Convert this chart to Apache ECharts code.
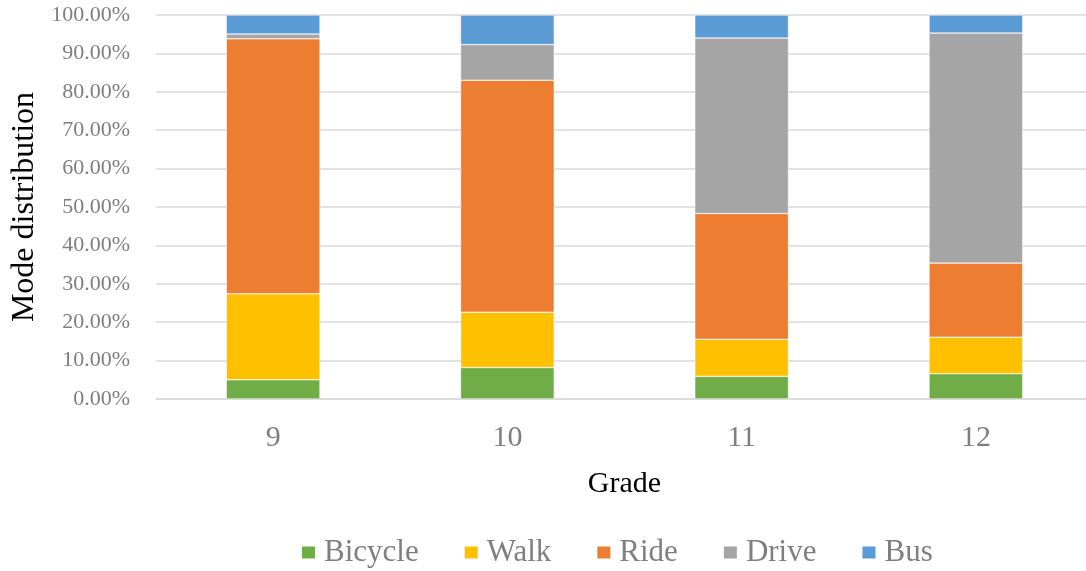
<!DOCTYPE html>
<html>
<head>
<meta charset="utf-8">
<script src="https://cdn.jsdelivr.net/npm/echarts@6/dist/echarts.min.js"></script>
<style>
html,body{margin:0;padding:0;background:#fff;}
#chart{width:1086px;height:571px;}
</style>
</head>
<body>
<div id="chart"></div>
<script>
const grades = ['9', '10', '11', '12'];
const bicycle = [5.0, 8.2, 5.9, 6.6];
const walk = [22.4, 14.4, 9.65, 9.5];
const ride = [66.4, 60.4, 32.75, 19.3];
const drive = [1.25, 9.3, 45.7, 59.9];
const bus = [4.95, 7.7, 6.0, 4.7];

const seriesNames = ['Bicycle', 'Walk', 'Ride', 'Drive', 'Bus'];
const seriesData = [bicycle, walk, ride, drive, bus];
const colors = ['#70ad47', '#ffc000', '#ed7d31', '#a5a5a5', '#5b9bd5'];

const FONT = '"Liberation Serif", "Times New Roman", serif';
const chart = echarts.init(document.getElementById('chart'));
chart.setOption({
  animation: false,
  color: colors,
  textStyle: { fontFamily: FONT },
  grid: { left: 156, top: 15, height: 384, width: 937, containLabel: false, outerBoundsMode: 'none' },
  legend: {
    data: seriesNames,
    left: 295,
    top: 532,
    itemWidth: 15,
    itemHeight: 14,
    itemGap: 44,
    icon: 'rect',
    textStyle: { fontFamily: FONT, fontSize: 31, color: '#7f7f7f', padding: [0, 0, 0, 3] }
  },
  xAxis: {
    type: 'category',
    data: grades,
    name: 'Grade',
    nameLocation: 'middle',
    nameGap: 70,
    nameTextStyle: { fontFamily: FONT, fontSize: 30, color: '#000' },
    axisLine: { show: true, lineStyle: { color: '#d9d9d9', width: 1.5 } },
    axisTick: { show: false },
    axisLabel: { fontFamily: FONT, fontSize: 30, color: '#7f7f7f', margin: 24 }
  },
  yAxis: {
    type: 'value',
    min: 0,
    max: 100,
    interval: 10,
    name: 'Mode distribution',
    nameLocation: 'middle',
    nameGap: 114,
    nameTextStyle: { fontFamily: FONT, fontSize: 32, color: '#000' },
    axisLine: { show: false },
    axisTick: { show: false },
    splitLine: { lineStyle: { color: '#d9d9d9', width: 1.5 } },
    axisLabel: {
      fontFamily: FONT, fontSize: 22, color: '#7f7f7f', margin: 26,
      formatter: v => v.toFixed(2) + '%'
    }
  },
  series: seriesNames.map((n, i) => ({
    name: n,
    type: 'bar',
    stack: 'total',
    barWidth: '40%',
    data: seriesData[i],
    itemStyle: { color: colors[i], borderColor: '#ffffff', borderWidth: 0.5 }
  }))
});
</script>
</body>
</html>
